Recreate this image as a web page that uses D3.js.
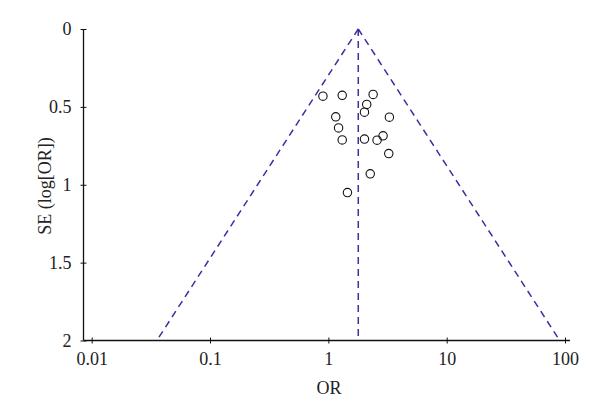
<!DOCTYPE html>
<html>
<head>
<meta charset="utf-8">
<script src="https://cdn.jsdelivr.net/npm/d3@7"></script>
<style>
  body { margin: 0; background: #fff; }
  svg text { font-family: "Liberation Serif", "DejaVu Serif", serif; fill: #222; }
</style>
</head>
<body>
<div id="chart"></div>
<script>
// data
let orValues = [0.90, 1.31, 2.39, 2.11, 2.02, 1.155, 3.28, 1.22, 1.31, 2.02, 2.58, 2.90, 3.24, 2.26, 1.45];
let seValues = [0.431, 0.426, 0.420, 0.484, 0.534, 0.564, 0.566, 0.635, 0.712, 0.707, 0.714, 0.686, 0.80, 0.93, 1.05];
let pooledOR = 1.79;
let xTicks = [0.01, 0.1, 1, 10, 100];
let xTickLabels = ["0.01", "0.1", "1", "10", "100"];
let yTicks = [0, 0.5, 1, 1.5, 2];
let yTickLabels = ["0", "0.5", "1", "1.5", "2"];
let seLimits = [0, 2];

var width = 600, height = 415;
var axisLeftX = 83.5, axisRightX = 570;
var lineColor = "#3a30a0";

let svg = d3.select("#chart").append("svg")
    .attr("width", width)
    .attr("height", height);

let x = d3.scaleLog().domain([0.01, 100]).range([91.7, 565]);
let y = d3.scaleLinear().domain([0, 2]).range([29, 340.5]);

// axes lines
svg.append("line")
    .attr("x1", axisLeftX).attr("x2", axisRightX)
    .attr("y1", y(2)).attr("y2", y(2))
    .style("stroke", "#111").style("stroke-width", 1.3);
svg.append("line")
    .attr("x1", axisLeftX).attr("x2", axisLeftX)
    .attr("y1", y(0)).attr("y2", y(2))
    .style("stroke", "#111").style("stroke-width", 1.3);

// x axis (ticks cross the line)
let gx = svg.append("g")
    .attr("transform", "translate(0," + y(2) + ")")
    .call(d3.axisBottom(x).tickValues(xTicks)
        .tickFormat((d, i) => xTickLabels[i])
        .tickSize(3).tickPadding(9));
gx.select(".domain").remove();
gx.selectAll(".tick line").attr("y1", -3).style("stroke", "#111");
gx.selectAll(".tick text").style("font-size", "18px");

// y axis
let gy = svg.append("g")
    .attr("transform", "translate(" + axisLeftX + ",0)")
    .call(d3.axisLeft(y).tickValues(yTicks)
        .tickFormat((d, i) => yTickLabels[i])
        .tickSize(3).tickPadding(9));
gy.select(".domain").remove();
gy.selectAll(".tick line").attr("x1", 3).style("stroke", "#111");
gy.selectAll(".tick text").style("font-size", "18px");

// axis titles
svg.append("text")
    .attr("x", 329).attr("y", 394)
    .attr("text-anchor", "middle")
    .style("font-size", "18px")
    .text("OR");
svg.append("text")
    .attr("transform", "translate(51,186) rotate(-90)")
    .attr("text-anchor", "middle")
    .style("font-size", "18px")
    .text("SE (log[OR])");

// funnel: pseudo 95% limits around the pooled OR
let lower = d3.line().x(se => x(pooledOR * Math.exp(-1.96 * se))).y(se => y(se));
let upper = d3.line().x(se => x(pooledOR * Math.exp(1.96 * se))).y(se => y(se));
let mid = d3.line().x(se => x(pooledOR)).y(se => y(se));

[lower, upper, mid].forEach(gen => {
    svg.append("path")
        .attr("d", gen(seLimits))
        .attr("fill", "none")
        .style("stroke", lineColor)
        .style("stroke-width", 1.5)
        .style("stroke-dasharray", "7,5");
});

// studies
svg.selectAll("circle.study")
    .data(orValues)
    .enter()
    .append("circle")
    .attr("class", "study")
    .attr("cx", d => x(d))
    .attr("cy", (d, i) => y(seValues[i]))
    .attr("r", 4.2)
    .attr("fill", "none")
    .style("stroke", "#111")
    .style("stroke-width", 1.1);
</script>
</body>
</html>
